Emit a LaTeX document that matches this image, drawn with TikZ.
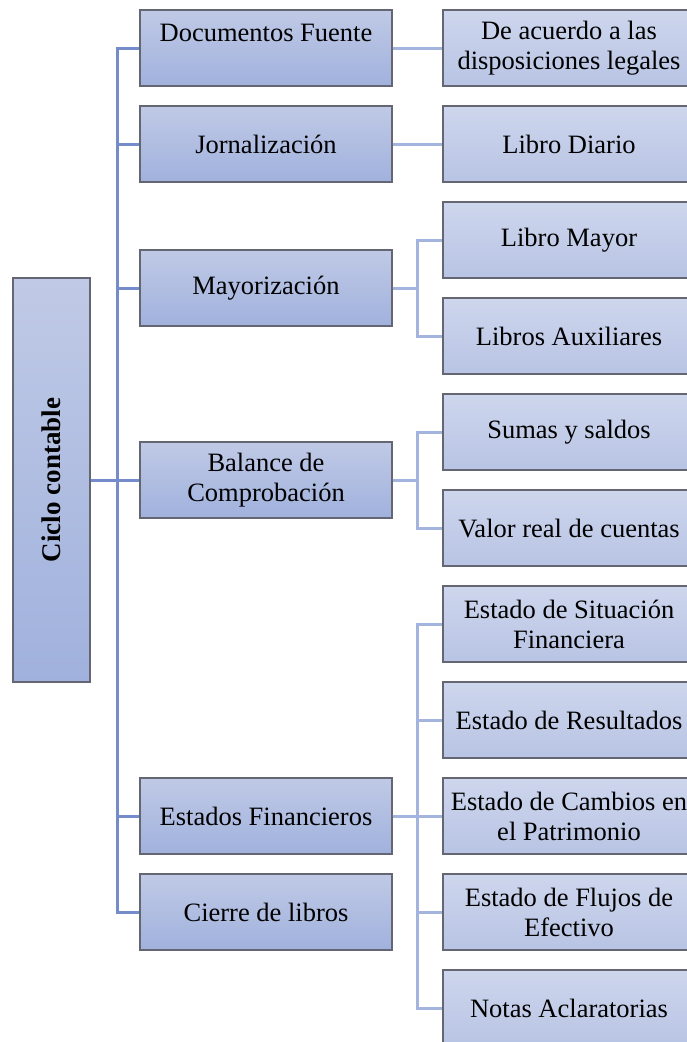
\documentclass[tikz,border=0pt]{standalone}
\usepackage{graphicx}
\usepackage{fontspec}
\setmainfont{Liberation Serif}
\definecolor{linkdark}{RGB}{118, 140, 202}
\definecolor{linklight}{RGB}{164, 180, 222}
\definecolor{boxtop}{RGB}{192, 202, 230}
\definecolor{boxbot}{RGB}{160, 177, 221}
\definecolor{leaftop}{RGB}{206, 214, 237}
\definecolor{leafbot}{RGB}{184, 196, 228}
\definecolor{boxedge}{RGB}{100, 103, 114}

\begin{document}
\begin{tikzpicture}[x=1pt, y=-1pt,
    stagebox/.style={draw=boxedge, line width=1.4, top color=boxtop, bottom color=boxbot,
      minimum width=252, minimum height=76, align=center, inner sep=2,
      font=\fontsize{26.5}{30}\selectfont},
    leafbox/.style={stagebox, top color=leaftop, bottom color=leafbot},
    trunkline/.style={linkdark, line width=3},
    subline/.style={linklight, line width=3}]
        \useasboundingbox (0,0) rectangle (686,1042);
        % Root of the cycle
        \node[stagebox, minimum width=77, minimum height=404] (ciclo) at (51.5,480)
          {\rotatebox{90}{\fontsize{27}{30}\selectfont\bfseries Ciclo contable}};
        % Stages
        \node[stagebox] (docs) at (266,48) {Documentos Fuente\\\mbox{}};
        \node[stagebox] (jorn) at (266,144) {Jornalización};
        \node[stagebox] (mayor) at (266,288) {Mayorización};
        \node[stagebox] (balance) at (266,480) {Balance de\\Comprobación};
        \node[stagebox] (estados) at (266,816) {Estados Financieros};
        \node[stagebox] (cierre) at (266,912) {Cierre de libros};
        % Details of each stage
        \node[leafbox] (legal) at (569,48) {De acuerdo a las\\disposiciones legales};
        \node[leafbox] (diario) at (569,144) {Libro Diario};
        \node[leafbox] (lmayor) at (569,240) {Libro Mayor};
        \node[leafbox] (laux) at (569,336) {Libros Auxiliares};
        \node[leafbox] (sumas) at (569,432) {Sumas y saldos};
        \node[leafbox] (valor) at (569,528) {Valor real de cuentas};
        \node[leafbox] (situacion) at (569,624) {Estado de Situación\\Financiera};
        \node[leafbox] (resultados) at (569,720) {Estado de Resultados};
        \node[leafbox] (cambios) at (569,816) {Estado de Cambios en\\el Patrimonio};
        \node[leafbox] (flujos) at (569,912) {Estado de Flujos de\\Efectivo};
        \node[leafbox] (notas) at (569,1008) {Notas Aclaratorias};
        % Trunk to the stages
        \foreach \st in {docs, jorn, mayor, balance, estados, cierre}{
          \draw[trunkline] (ciclo.east) -- ++(27,0) |- (\st.west);
        }
        % Stage to detail
        \draw[subline] (docs.east) -- (docs.east -| legal.west);
        \draw[subline] (jorn.east) -- (diario.west);
        \foreach \lf in {lmayor, laux}{
          \draw[subline] (mayor.east) -- ++(25,0) |- (\lf.west);
        }
        \foreach \lf in {sumas, valor}{
          \draw[subline] (balance.east) -- ++(25,0) |- (\lf.west);
        }
        \foreach \lf in {situacion, resultados, cambios, flujos, notas}{
          \draw[subline] (estados.east) -- ++(25,0) |- (\lf.west);
        }
      \end{tikzpicture}
\end{document}
